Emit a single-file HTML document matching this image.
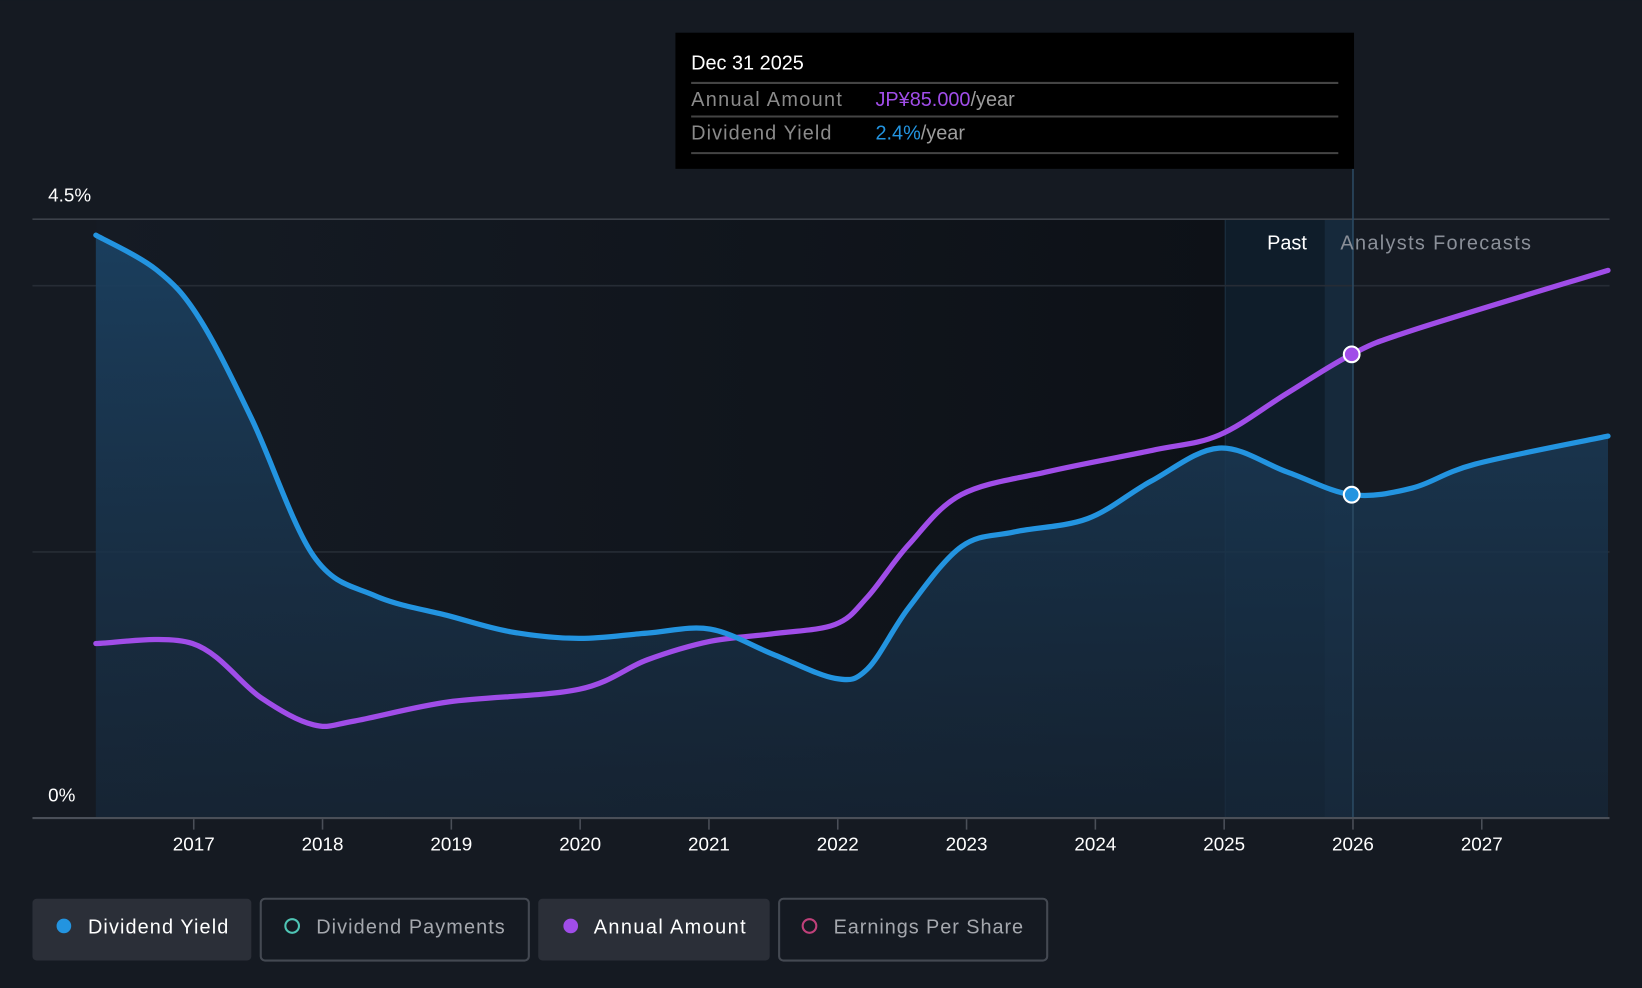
<!DOCTYPE html>
<html><head><meta charset="utf-8">
<style>
html,body{margin:0;padding:0;background:#151a22;width:1642px;height:988px;overflow:hidden}
svg{display:block;font-family:"Liberation Sans",sans-serif}
</style></head>
<body>
<svg id="chart" width="1642" height="988" viewBox="0 0 1568 943" xmlns="http://www.w3.org/2000/svg">
<defs>
<linearGradient id="pastBg" x1="0" x2="1" y1="0" y2="0">
<stop offset="0" stop-color="#151b24"/><stop offset="1" stop-color="#0d1117"/>
</linearGradient>
<linearGradient id="fillG" x1="0" x2="0" y1="0" y2="1">
<stop offset="0" stop-color="#1b4060" stop-opacity="0.95"/><stop offset="1" stop-color="#17283a" stop-opacity="0.7"/>
</linearGradient>
</defs>
<rect x="0" y="0" width="1568" height="943" fill="#151a22"/>
<rect x="92" y="209" width="1078" height="572" fill="url(#pastBg)"/>
<rect x="1170" y="209" width="122" height="572" fill="#0f1d2a"/>
<rect x="1265" y="209" width="27" height="572" fill="#16293b"/>
<line x1="1170" y1="209" x2="1170" y2="781" stroke="#1d3144" stroke-width="1"/>
<g id="grid"></g>
<path id="yieldFill" fill="url(#fillG)"/>
<path id="amountLine" fill="none" stroke="#a04de8" stroke-width="5" stroke-linecap="round"/>
<path id="yieldLine" fill="none" stroke="#2394e0" stroke-width="5" stroke-linecap="round"/>
<line x1="1292" y1="161" x2="1292" y2="781" stroke="#2b4a63" stroke-width="1.5"/>
<circle id="amountDot" r="7.5" fill="#a04de8" stroke="#fff" stroke-width="2"/>
<circle id="yieldDot" r="7.5" fill="#2394e0" stroke="#fff" stroke-width="2"/>
<line x1="31" y1="781" x2="1537" y2="781" stroke="#4a4f58" stroke-width="2"/>
<g id="xticks"></g>
<text x="46" y="192" fill="#fff" font-size="18">4.5%</text>
<text x="46" y="765" fill="#fff" font-size="18">0%</text>
<text x="1248" y="238" fill="#fff" font-size="19" text-anchor="end">Past</text>
<text x="1280" y="238" fill="#8a8f98" font-size="19" textLength="182">Analysts Forecasts</text>
<g>
<rect x="645" y="31" width="648" height="130" fill="#000"/>
<text x="660" y="66" fill="#fff" font-size="19">Dec 31 2025</text>
<line x1="660" y1="79" x2="1278" y2="79" stroke="#444" stroke-width="2"/>
<text x="660" y="101" fill="#8a8a8a" font-size="19" textLength="144">Annual Amount</text>
<text x="836" y="101" font-size="19" fill="#9d9d9d"><tspan fill="#a04de8">JP¥85.000</tspan>/year</text>
<line x1="660" y1="111" x2="1278" y2="111" stroke="#444" stroke-width="2"/>
<text x="660" y="133" fill="#8a8a8a" font-size="19" textLength="134">Dividend Yield</text>
<text x="836" y="133" font-size="19" fill="#9d9d9d"><tspan fill="#2394e0">2.4%</tspan>/year</text>
<line x1="660" y1="146" x2="1278" y2="146" stroke="#444" stroke-width="2"/>
</g>
<g>
<g>
<rect x="31" y="858" width="209" height="59" rx="4" fill="#2b2f38"/>
<circle cx="61" cy="884" r="7" fill="#2394e0"/>
<text x="84" y="891" fill="#fff" font-size="19" textLength="134">Dividend Yield</text></g>
<g>
<rect x="249" y="858" width="256" height="59" rx="4" fill="none" stroke="#444952" stroke-width="2"/>
<circle cx="279" cy="884" r="6.5" fill="none" stroke="#4fc5b5" stroke-width="2"/>
<text x="302" y="891" fill="#a5a8ae" font-size="19" textLength="180">Dividend Payments</text></g>
<g>
<rect x="514" y="858" width="221" height="59" rx="4" fill="#2b2f38"/>
<circle cx="545" cy="884" r="7" fill="#a04de8"/>
<text x="567" y="891" fill="#fff" font-size="19" textLength="145">Annual Amount</text></g>
<g>
<rect x="744" y="858" width="256" height="59" rx="4" fill="none" stroke="#444952" stroke-width="2"/>
<circle cx="773" cy="884" r="6.5" fill="none" stroke="#c0407a" stroke-width="2"/>
<text x="796" y="891" fill="#a5a8ae" font-size="19" textLength="181">Earnings Per Share</text></g>
</g>
</svg>
<script>
const yieldYears=[2016.24,2016.71,2017.04,2017.45,2017.93,2018.41,2018.98,2019.46,2019.99,2020.52,2021.01,2021.50,2021.98,2022.23,2022.55,2022.96,2023.37,2023.94,2024.43,2024.96,2025.49,2025.99,2026.46,2026.95,2027.98];
const yieldValues=[4.38,4.12,3.76,3.00,1.97,1.67,1.52,1.40,1.35,1.39,1.42,1.23,1.05,1.12,1.58,2.04,2.15,2.25,2.53,2.78,2.60,2.43,2.48,2.66,2.87];
const amountYears=[2016.24,2016.99,2017.52,2017.93,2018.25,2018.98,2019.99,2020.52,2021.01,2021.50,2021.98,2022.23,2022.55,2022.96,2023.63,2024.44,2024.96,2025.49,2025.99,2026.46,2027.98];
const amountValues=[32.0,32.0,22.1,17.1,17.8,21.3,23.6,29.0,32.4,33.8,35.5,40.5,50.1,59.3,63.5,67.4,70.2,77.9,85.0,89.4,100.4];
const xTickLabels=["2017","2018","2019","2020","2021","2022","2023","2024","2025","2026","2027"];
const gridValues=[2,4,4.5];
const selIndexY=21, selIndexA=18;
const xS=y=>185+(y-2017)*123;
const yS=v=>781-v*127.1;
const aS=v=>781-v*5.21;
function path(xs,ys){
  const p=xs.map((x,i)=>[xS(x),ys[i]]);
  let d=`M${p[0][0]},${p[0][1]}`;
  for(let i=0;i<p.length-1;i++){
    const p0=p[i-1]||p[i],p1=p[i],p2=p[i+1],p3=p[i+2]||p2;
    const t=6;
    d+=` C${p1[0]+(p2[0]-p0[0])/t},${p1[1]+(p2[1]-p0[1])/t} ${p2[0]-(p3[0]-p1[0])/t},${p2[1]-(p3[1]-p1[1])/t} ${p2[0]},${p2[1]}`;
  }
  return d;
}
const ns="http://www.w3.org/2000/svg";
const grid=document.getElementById('grid');
gridValues.forEach(v=>{
  const l=document.createElementNS(ns,'line');
  
  
  l.setAttribute('x1',31);l.setAttribute('x2',1537);
  l.setAttribute('y1',yS(v));l.setAttribute('y2',yS(v));
  l.setAttribute('stroke',v===4.5?'#3c414a':'#262c35');l.setAttribute('stroke-width',1.5);
  grid.appendChild(l);
});
const yd=path(yieldYears,yieldValues.map(yS));
document.getElementById('yieldLine').setAttribute('d',yd);
document.getElementById('yieldFill').setAttribute('d',yd+` L${xS(yieldYears[yieldYears.length-1])},781 L${xS(yieldYears[0])},781 Z`);
document.getElementById('amountLine').setAttribute('d',path(amountYears,amountValues.map(aS)));
const yDot=document.getElementById('yieldDot');
yDot.setAttribute('cx',xS(yieldYears[selIndexY]));yDot.setAttribute('cy',yS(yieldValues[selIndexY]));
const aDot=document.getElementById('amountDot');
aDot.setAttribute('cx',xS(amountYears[selIndexA]));aDot.setAttribute('cy',aS(amountValues[selIndexA]));
const xt=document.getElementById('xticks');
xTickLabels.forEach(lbl=>{
  const x=xS(+lbl);
  const l=document.createElementNS(ns,'line');
  
  
  l.setAttribute('x1',x);l.setAttribute('x2',x);l.setAttribute('y1',782);l.setAttribute('y2',792);
  l.setAttribute('stroke','#4a4f58');l.setAttribute('stroke-width',1.5);
  xt.appendChild(l);
  const t=document.createElementNS(ns,'text');
  
  
  t.setAttribute('x',x);t.setAttribute('y',812);t.setAttribute('text-anchor','middle');
  t.setAttribute('fill','#fff');t.setAttribute('font-size','18');
  t.textContent=lbl;
  xt.appendChild(t);
});
</script>
</body></html>
